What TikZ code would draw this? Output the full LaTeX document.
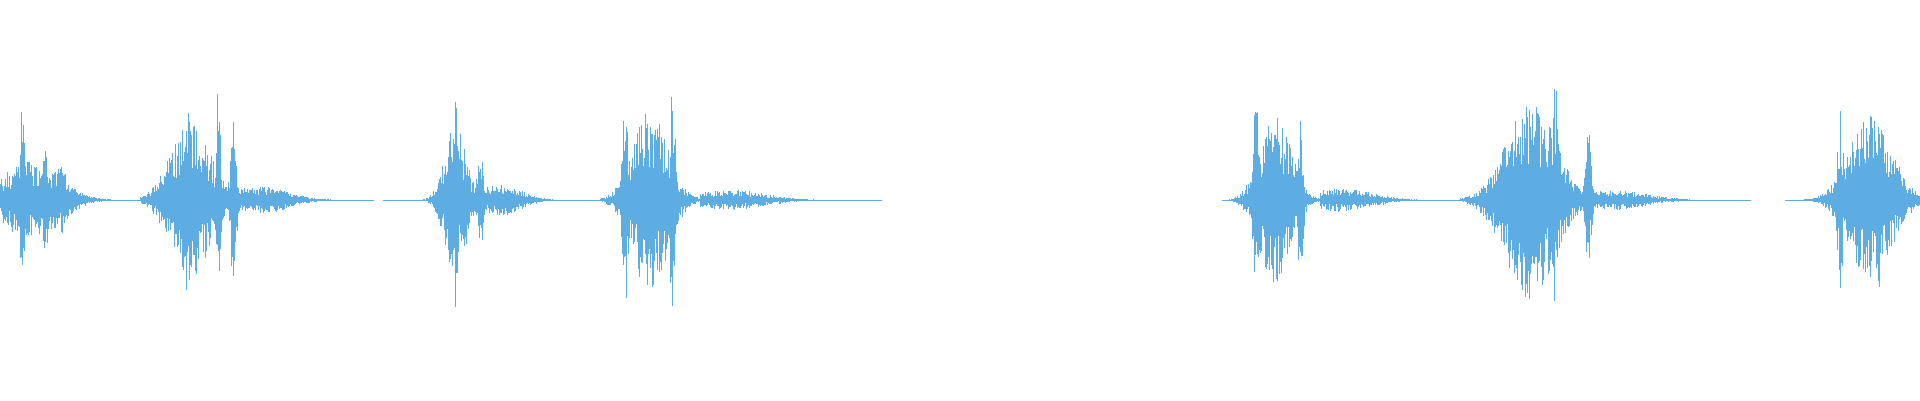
\documentclass[tikz,border=0pt]{standalone}
\definecolor{wave}{HTML}{5DADE2}
\tikzset{wv/.style={draw=wave,line width=1pt}}
\begin{document}
\begin{tikzpicture}[x=1pt,y=1pt]
\useasboundingbox (0,0) rectangle (1920,400);
\pgfmathsetseed{4242}
\foreach \lo/\hi in {0/374,383/882,1222/1751,1785/1920}
  \draw[wv] (\lo,200) -- (\hi,200);
\foreach \c/\a/\s/\lo/\hi in {
30/40/40/0/110, 22/100/4/12/32, 60/35/12/40/80, 45/60/4/38/52,
190/80/28/140/260, 187/105/4/179/195, 218/120/3/211/225, 233/90/4/225/241, 260/14/40/230/374,
455/75/15/410/505, 455/110/3/449/461, 480/60/4/472/488, 500/16/30/470/600,
650/90/25/600/715, 625/110/4/616/634, 672/110/4/663/681, 640/80/5/630/650, 730/10/50/700/882,
1275/85/22/1222/1330, 1256/110/4/1247/1265, 1300/80/4/1291/1309, 1340/12/45/1320/1460,
1530/100/35/1460/1610, 1525/115/4/1516/1534, 1555/120/4/1546/1564, 1588/70/4/1580/1596, 1610/10/50/1590/1751,
1870/85/30/1785/1920, 1840/90/4/1832/1848, 1878/95/4/1870/1886}
{
  \foreach \x in {\lo,...,\hi}{
    \pgfmathsetmacro\e{\a*exp(max(-15,-((\x-\c)/\s)^2))}
    \draw[wv] (\x,{200+\e*(0.35+0.65*rnd)}) -- (\x,{200-\e*(0.35+0.65*rnd)});
  }
}
\end{tikzpicture}
\end{document}
